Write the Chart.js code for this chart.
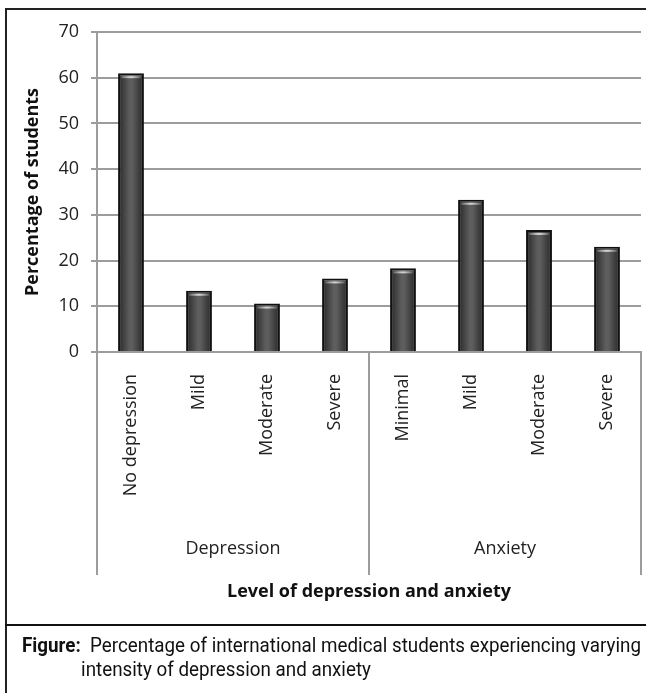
<!DOCTYPE html>
<html>
<head>
<meta charset="utf-8">
<script src="https://cdn.jsdelivr.net/npm/chart.js@4"></script>
<style>
  html, body { margin: 0; padding: 0; background: #fff; }
  body { width: 646px; height: 693px; position: relative; overflow: hidden; }
  #wrap { position: absolute; left: 0; top: 0; width: 646px; height: 626px; }
  .frame { position: absolute; background: #222; }
  #caption { position: absolute; left: 22px; top: 633px; font-family: "Liberation Sans Narrow", "Roboto", "Liberation Sans", sans-serif; font-size: 21px; line-height: 24px; color: #111; white-space: nowrap; }
  #caption .line { display: block; transform-origin: left top; }
  #caption b { font-weight: bold; }
</style>
</head>
<body>
<div id="wrap"><canvas id="chart" width="646" height="626"></canvas></div>
<div class="frame" style="left:5px; top:8px; width:2px; height:685px;"></div>
<div class="frame" style="left:5px; top:8px; width:641px; height:2px;"></div>
<div class="frame" style="left:5px; top:624px; width:641px; height:2px; background:#111;"></div>
<div id="caption">
  <span class="line" id="cap1"><b>Figure:</b>&nbsp; Percentage of international medical students experiencing varying</span>
  <span class="line" id="cap2" style="padding-left:66px;">intensity of depression and anxiety</span>
</div>
<script>
// Levels of each condition, in display order
const categories = ['No depression', 'Mild', 'Moderate', 'Severe', 'Minimal', 'Mild', 'Moderate', 'Severe'];
// Percentage of students at each level
const percentages = [61, 13.4, 10.6, 16.1, 18.3, 33.3, 26.7, 23];
// Condition groups and how many levels each one spans
const groupNames = ['Depression', 'Anxiety'];
const groupSizes = [4, 4];
const yTicks = [0, 10, 20, 30, 40, 50, 60, 70];

const FONT = '"Open Sans", "Liberation Sans", sans-serif';
const GRID = '#9c9c9c';
const BAR_PCT = 0.38;

// Cylinder-like shading across each bar, placed from the category scale
function barFill(ctx) {
  const chart = ctx.chart;
  const xs = chart.scales.x;
  if (!xs || !chart.chartArea) return '#484848';
  const cx = xs.getPixelForValue(ctx.dataIndex);
  const w = xs.width / categories.length * BAR_PCT;
  const g = chart.ctx.createLinearGradient(cx - w / 2, 0, cx + w / 2, 0);
  g.addColorStop(0, '#262626');
  g.addColorStop(0.45, '#5e5e5e');
  g.addColorStop(0.55, '#5e5e5e');
  g.addColorStop(1, '#262626');
  return g;
}

// Light rim near the top of each bar
const barRim = {
  id: 'barRim',
  afterDatasetsDraw(chart) {
    const c = chart.ctx;
    c.save();
    chart.getDatasetMeta(0).data.forEach(el => {
      const x0 = el.x - el.width / 2, x1 = el.x + el.width / 2;
      const g = c.createLinearGradient(x0, 0, x1, 0);
      g.addColorStop(0, 'rgba(255,255,255,0)');
      g.addColorStop(0.5, 'rgba(235,235,235,0.85)');
      g.addColorStop(1, 'rgba(255,255,255,0)');
      c.strokeStyle = g;
      c.lineWidth = 2;
      c.beginPath();
      c.moveTo(x0 + 3, el.y + 4);
      c.lineTo(x1 - 3, el.y + 4);
      c.stroke();
    });
    c.restore();
  }
};

// Group separators and group names beneath the category labels
const groupAxis = {
  id: 'groupAxis',
  afterDraw(chart) {
    const x = chart.scales.x;
    const area = chart.chartArea;
    const c = chart.ctx;
    const lineBottom = 575;
    const edges = [area.left];
    let idx = 0;
    groupSizes.forEach(n => {
      idx += n;
      if (idx < categories.length) {
        edges.push((x.getPixelForValue(idx - 1) + x.getPixelForValue(idx)) / 2);
      } else {
        edges.push(area.right);
      }
    });
    c.save();
    c.strokeStyle = GRID;
    c.lineWidth = 2;
    edges.forEach(px => {
      c.beginPath();
      c.moveTo(px, area.bottom);
      c.lineTo(px, lineBottom);
      c.stroke();
    });
    c.fillStyle = '#222';
    c.font = '18px ' + FONT;
    c.textAlign = 'center';
    c.textBaseline = 'middle';
    groupNames.forEach((name, i) => {
      c.fillText(name, (edges[i] + edges[i + 1]) / 2, 549);
    });
    c.restore();
  }
};

new Chart(document.getElementById('chart'), {
  type: 'bar',
  data: {
    labels: categories,
    datasets: [{
      data: percentages,
      backgroundColor: barFill,
      borderColor: '#111',
      borderWidth: 2,
      categoryPercentage: 1,
      barPercentage: BAR_PCT
    }]
  },
  options: {
    responsive: false,
    animation: false,
    layout: { padding: { left: 0, top: 32, right: 5, bottom: 0 } },
    plugins: { legend: { display: false }, tooltip: { enabled: false } },
    scales: {
      x: {
        afterFit(scale) { scale.height = 626 - 352; },
        grid: { display: false },
        border: { display: true, color: GRID, width: 2 },
        ticks: {
          minRotation: 90, maxRotation: 90, padding: 14,
          color: '#222', font: { family: FONT, size: 18, weight: '500' }
        },
        title: {
          display: true, text: 'Level of depression and anxiety',
          color: '#111', font: { family: FONT, size: 18, weight: 'bold' },
          padding: { top: 0, bottom: 23 }
        }
      },
      y: {
        min: 0, max: 70,
        afterFit(scale) { scale.width = 97; },
        afterBuildTicks(scale) { scale.ticks = yTicks.map(v => ({ value: v })); },
        grid: { color: GRID, lineWidth: 2, tickLength: 6 },
        border: { display: true, color: GRID, width: 2 },
        ticks: {
          padding: 12, color: '#222',
          font: { family: FONT, size: 18, weight: '500' }
        },
        title: {
          display: true, text: 'Percentage of students',
          color: '#111', font: { family: FONT, size: 18, weight: 'bold' },
          padding: { top: 22, bottom: 0 }
        }
      }
    }
  },
  plugins: [barRim, groupAxis]
});

// Fit the caption's first line to the figure width
(function fitCaption() {
  const l1 = document.getElementById('cap1');
  const l2 = document.getElementById('cap2');
  const target = 641 - 22;
  const w = l1.getBoundingClientRect().width;
  if (w > 0) {
    const s = target / w;
    l1.style.transform = 'scaleX(' + s + ')';
    l2.style.transform = 'scaleX(' + s + ')';
  }
})();
</script>
</body>
</html>
